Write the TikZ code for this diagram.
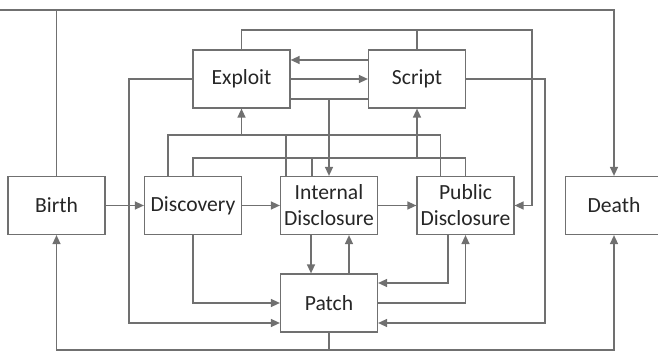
\documentclass[tikz,border=0pt]{standalone}
\usepackage{fontspec}
\setmainfont{Carlito}
\usetikzlibrary{arrows.meta}
\definecolor{linegray}{RGB}{112,112,112}
\definecolor{textgray}{RGB}{38,38,38}

\begin{document}
\begin{tikzpicture}[x=1pt,y=-1pt,every path/.style={>={Triangle[length=9pt,width=8pt]}},
  color=linegray,line width=1.4pt,
  box/.style={draw=linegray,line width=1.2pt,rectangle,minimum width=97pt,minimum height=58pt,
    inner sep=0pt,align=center,text=textgray,font=\fontsize{21.6}{26}\selectfont}]
\useasboundingbox (0,0) rectangle (658,352);
\clip (0,0) rectangle (658,352);
\node[box]       (birth)   at (56.5,205.5)  {Birth};
\node[box]       (disc)    at (193,205.5)   {Discovery};
\node[box]       (intd)    at (329,205.5)   {Internal\\Disclosure};
\node[box]       (pubd)    at (465.5,205.5) {Public\\Disclosure};
\node[box]       (death)   at (614,205.5)   {Death};
\node[box]       (exploit) at (241.5,79)    {Exploit};
\node[box]       (script)  at (417,79)      {Script};
\node[box]       (patch)   at (329,303)     {Patch};
% routing levels
\coordinate      (ytop)  at (0,10);
\coordinate      (ytop2) at (0,30);
\coordinate      (ybot)  at (0,350);
\coordinate      (busA)  at (0,135);
\coordinate      (busB)  at (0,158);
\coordinate      (xl)    at (129,0);
\coordinate      (xr)    at (545,0);
\coordinate      (xr2)   at (532,0);
% feet on the boxes
\coordinate      (dA)  at ([xshift=-25pt]disc.north);
\coordinate      (iA)  at ([xshift=-43pt]intd.north);
\coordinate      (iB)  at ([xshift=-17pt]intd.north);
\coordinate      (pA)  at ([xshift=-25pt]pubd.north);
\coordinate      (pB)  at ([xshift=-17.5pt]pubd.south);
\coordinate      (eA)  at ([yshift=19pt]exploit.east);
\coordinate      (eB)  at ([yshift=-20pt]exploit.east);
\coordinate      (sA)  at ([yshift=19pt]script.west);
\coordinate      (sB)  at ([yshift=-20pt]script.west);
\coordinate      (pL)  at ([yshift=-20pt]patch.west);
\coordinate      (pR1) at ([yshift=20pt]patch.east);
\coordinate      (pR2) at ([yshift=-20pt]patch.east);
% main line
\draw[->]        (birth) -- (disc);
\draw[->]        (disc) -- (intd);
\draw[->]        (intd) -- (pubd);
\draw[->]        (birth.north) |- (ytop) -| (death.north);
\draw[->]        (patch.south) -- (patch.south |- ybot) -| (birth.south);
\draw[->]        (patch.south |- ybot) -| (death.south);
% exploit and script
\draw[->]        (sA) -- (eA);
\draw[->]        (exploit) -- (script);
\draw            (eB) -- (sB);
\draw[->]        (intd.north |- eB) -- (intd.north);
\draw[->]        (exploit.north) |- (xr2 |- ytop2) |- (pubd.east);
\draw            (script.north) -- (script.north |- ytop2);
\draw[->]        (exploit.west) -| (xl |- pL) -- (pL);
\draw[->]        (script.east) -| (xr |- pR2) -- (pR2);
% buses up to exploit and script
\draw            (dA) |- (pA |- busA) -- (pA);
\draw            (iA) -- (iA |- busA);
\draw[->]        (exploit.south |- busA) -- (exploit.south);
\draw            (disc.north) |- (pubd.north |- busB) -- (pubd.north);
\draw            (iB) -- (iB |- busB);
\draw[->]        (script.south |- busB) -- (script.south);
% patch
\draw[->]        (disc.south) |- (patch.west);
\draw[->]        (pB) |- (pR1);
\draw[->]        (patch.east) -| (pubd.south);
\draw[->]        ([xshift=-18pt]intd.south) -- ([xshift=-18pt]patch.north);
\draw[->]        ([xshift=20pt]patch.north) -- ([xshift=20pt]intd.south);
\end{tikzpicture}
\end{document}
